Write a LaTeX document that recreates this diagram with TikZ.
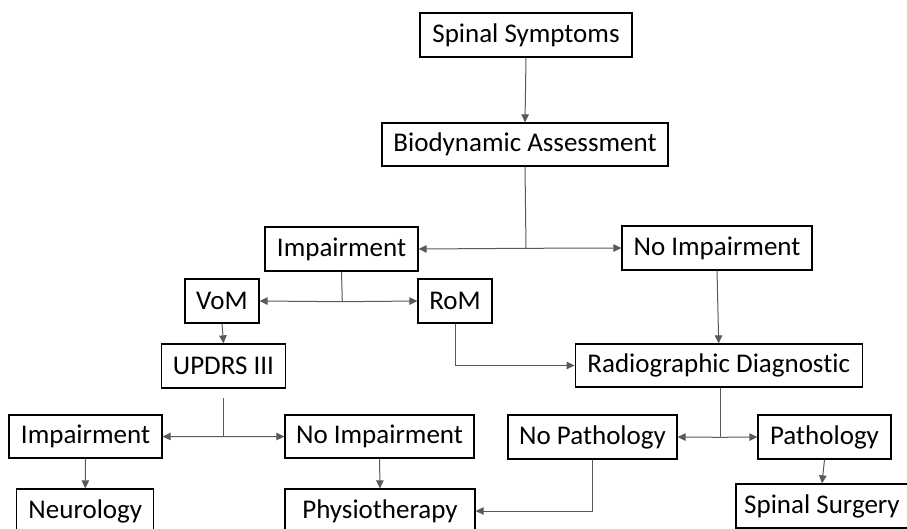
\documentclass[tikz,border=0pt]{standalone}
\usepackage{fontspec}
\setmainfont[Ligatures=NoCommon]{Carlito}
\usetikzlibrary{arrows.meta}
\begin{document}
\begin{tikzpicture}[x=1pt,y=-1pt,
  box/.style={draw=black, line width=1.3pt, inner sep=0pt, minimum height=44pt,
              font=\fontsize{27}{30}\selectfont, fill=white},
  link/.style={draw=black!65, line width=1pt},
  arr/.style={link, -{Triangle[length=8pt,width=7.5pt]}}]
\path[use as bounding box, clip] (0,0) rectangle (907,528);
\fill[white] (0,0) rectangle (907,528);

\node[box, minimum width=212pt] (ss) at (526,35) {Spinal Symptoms};
\node[box, minimum width=286pt, minimum height=43pt] (ba) at (525,144.5) {Biodynamic Assessment};
\node[box, minimum width=153pt] (imp1) at (341.5,249) {Impairment};
\node[box, minimum width=190pt] (noimp1) at (717,248) {No Impairment};
\node[box, minimum width=74pt] (vom) at (222,301) {VoM};
\node[box, minimum width=74pt] (rom) at (455,301) {RoM};
\node[box, minimum width=124pt] (updrs) at (223.5,366) {UPDRS III};
\node[box, minimum width=287pt, minimum height=43pt] (radio) at (718.7,365.5) {Radiographic Diagnostic};
\node[box, minimum width=153pt, minimum height=43pt] (imp2) at (85.5,436.5) {Impairment};
\node[box, minimum width=189pt, minimum height=43pt] (noimp2) at (379.5,436.5) {No Impairment};
\node[box, minimum width=169pt] (nopath) at (592.5,437) {No Pathology};
\node[box, minimum width=133pt] (path) at (824.5,437) {Pathology};
\node[box, minimum width=137pt] (neuro) at (85.3,511) {Neurology};
\node[box, minimum width=190pt] (physio) at (380,511) {Physiotherapy};
\node[box, minimum width=172pt] (surg) at (822,506) {Spinal Surgery};

\coordinate (j1) at (526,248.3);
\coordinate (j2) at (342.3,301.7);
\coordinate (u1) at (223,398.3);
\coordinate (j3) at (223,436.7);
\coordinate (j4) at (720.7,437.3);

\draw[arr] (ss.south) -- (ba.north);
\draw[link] (ba.south) -- (j1);
\draw[arr] (j1) -- (imp1.east);
\draw[arr] (j1) -- (noimp1.west);
\draw[link] (imp1.south) -- (j2);
\draw[arr] (j2) -- (vom.east);
\draw[arr] (j2) -- (rom.west);
\draw[arr] (vom.south) -- (updrs.north);
\draw[arr] (rom.south) |- (radio.west);
\draw[arr] (noimp1.south) -- (radio.north);
\draw[link] (u1) -- (j3);
\draw[arr] (j3) -- (imp2.east);
\draw[arr] (j3) -- (noimp2.west);
\draw[link] (radio.south -| j4) -- (j4);
\draw[arr] (j4) -- (nopath.east);
\draw[arr] (j4) -- (path.west);
\draw[arr] (imp2.south) -- (neuro.north);
\draw[arr] (noimp2.south) -- (physio.north);
\draw[arr] (nopath.south) |- (physio.east);
\draw[arr] (path.south) -- (surg.north);
\end{tikzpicture}
\end{document}
